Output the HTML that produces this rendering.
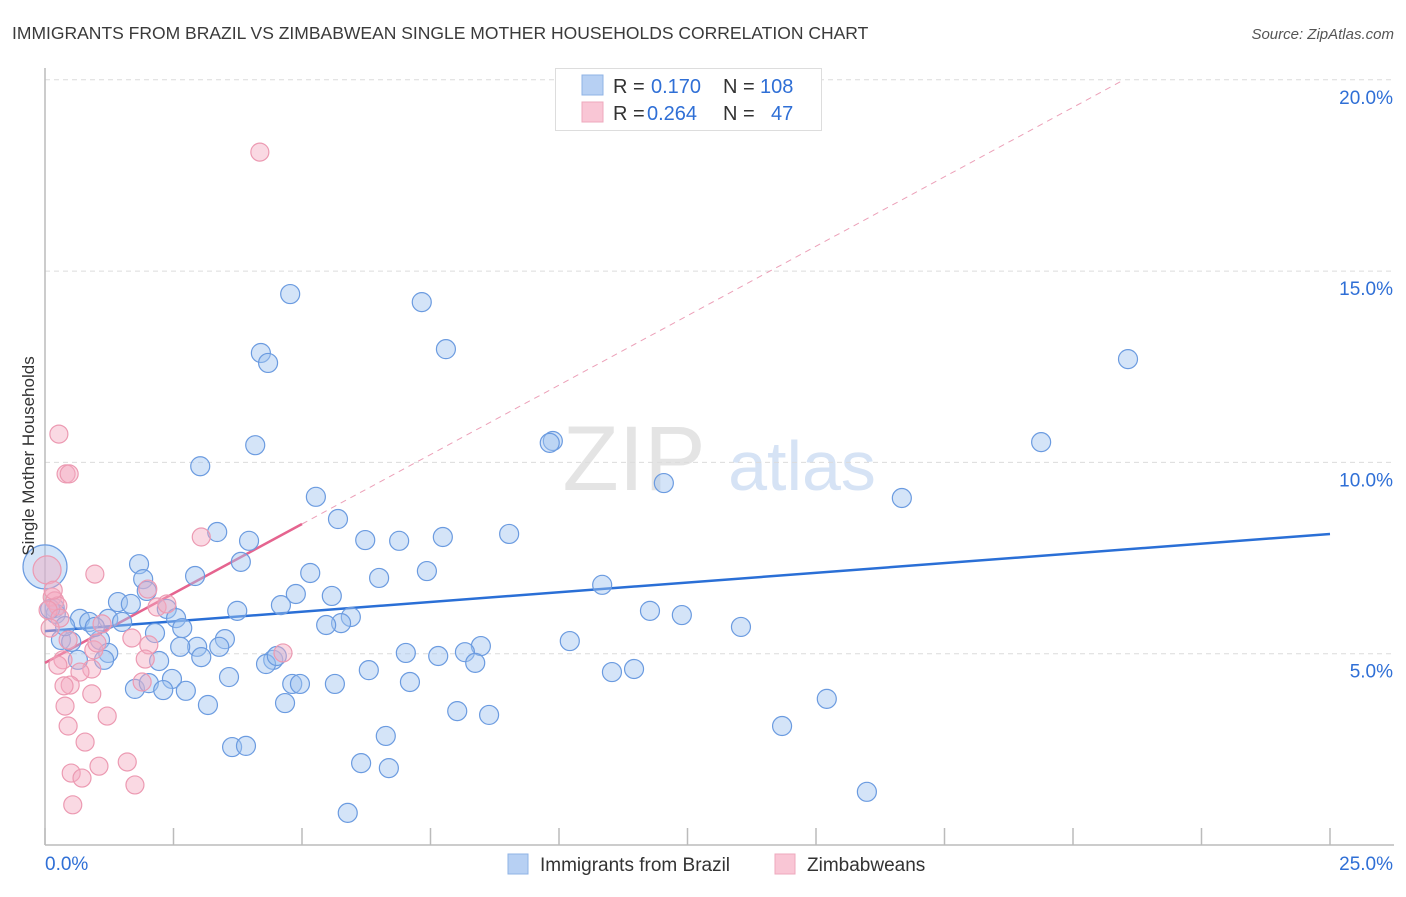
<!DOCTYPE html>
<html><head><meta charset="utf-8"><style>
body{margin:0;background:#fff;font-family:"Liberation Sans",sans-serif;}
svg text{font-family:"Liberation Sans",sans-serif;}
</style></head><body>
<svg id="chart" width="1406" height="892" xmlns="http://www.w3.org/2000/svg">
<text x="12" y="39" font-size="17.5" fill="#3a3a3a">IMMIGRANTS FROM BRAZIL VS ZIMBABWEAN SINGLE MOTHER HOUSEHOLDS CORRELATION CHART</text>
<text x="1394" y="39" font-size="15" fill="#555" text-anchor="end" font-style="italic">Source: ZipAtlas.com</text>
<g>
<text x="634" y="490" font-size="92" fill="#e4e4e4" font-family="Liberation Serif" text-anchor="middle">ZIP</text>
<text x="802" y="490" font-size="70" fill="#d6e3f5" text-anchor="middle">atlas</text>
</g>
<g id="grid"></g>
<g id="axes"></g>
<g id="trends"></g>
<g id="points"></g>
<text transform="translate(34,456) rotate(-90)" font-size="17" fill="#333" text-anchor="middle">Single Mother Households</text>
<g>
<rect x="555.5" y="68.5" width="266" height="62" fill="#fff" stroke="#ddd"/>
<rect x="582" y="75" width="21" height="20" fill="#b7d0f3" stroke="#8fb3e6"/>
<rect x="582" y="102" width="21" height="20" fill="#f9c6d5" stroke="#eea8bd"/>
<text x="613" y="93" font-size="20" fill="#333">R = </text><text x="651" y="93" font-size="20" fill="#2f6fd6">0.170</text>
<text x="723" y="93" font-size="20" fill="#333">N = </text><text x="760" y="93" font-size="20" fill="#2f6fd6">108</text>
<text x="613" y="120" font-size="20" fill="#333">R = </text><text x="647" y="120" font-size="20" fill="#2f6fd6">0.264</text>
<text x="723" y="120" font-size="20" fill="#333">N = </text><text x="771" y="120" font-size="20" fill="#2f6fd6">47</text>
</g>
<g>
<rect x="508" y="854" width="20" height="20" fill="#b7d0f3" stroke="#8fb3e6"/>
<text x="540" y="871" font-size="19" fill="#333">Immigrants from Brazil</text>
<rect x="775" y="854" width="20" height="20" fill="#f9c6d5" stroke="#eea8bd"/>
<text x="807" y="871" font-size="19" fill="#333">Zimbabweans</text>
</g>
</svg>
<script>
const xTicks=[0,2.5,5,7.5,10,12.5,15,17.5,20,22.5,25];
const yTicks=[5,10,15,20];
const yTickLabels=["5.0%","10.0%","15.0%","20.0%"];
const xEndLabels=["0.0%","25.0%"];
const brazilX=[4.77,7.33,7.80,4.20,4.34,21.07,9.88,9.82,19.38,4.09,3.02,12.04,16.67,5.27,5.70,3.35,9.03,7.74,6.23,6.89,3.97,1.83,3.81,7.43,5.16,2.92,6.50,1.91,10.84,1.98,4.88,5.58,1.42,1.67,2.37,4.59,3.74,11.77,12.39,5.95,0.68,1.23,5.76,5.47,0.86,1.50,2.55,2.67,13.54,2.14,10.21,3.50,8.48,1.07,0.31,0.51,2.96,2.63,3.39,8.17,7.02,7.65,3.04,1.23,8.37,2.22,1.15,0.64,4.44,4.30,4.51,6.30,11.03,11.46,3.58,2.47,7.10,4.81,4.96,5.64,1.75,2.02,2.74,2.30,4.67,3.17,8.02,8.64,15.21,6.63,14.34,3.64,3.91,6.15,6.69,15.99,5.89,0.19,0.21,0.97,0.39,0.10];
const brazilY=[14.40,14.19,12.96,12.86,12.60,12.70,10.56,10.51,10.53,10.45,9.90,9.46,9.07,9.10,8.52,8.18,8.13,8.05,7.97,7.95,7.95,7.34,7.40,7.16,7.11,7.03,6.98,6.95,6.80,6.64,6.56,6.51,6.35,6.30,6.17,6.27,6.12,6.12,6.01,5.96,5.91,5.91,5.80,5.75,5.83,5.83,5.93,5.67,5.70,5.54,5.33,5.38,5.20,5.36,5.36,5.31,5.18,5.18,5.18,5.04,5.02,4.94,4.91,5.02,4.76,4.81,4.84,4.84,4.84,4.73,4.94,4.57,4.52,4.60,4.39,4.34,4.26,4.21,4.21,4.21,4.08,4.23,4.03,4.05,3.71,3.66,3.50,3.40,3.82,2.85,3.11,2.56,2.59,2.14,2.01,1.39,0.84,6.19,6.04,5.70,5.72,6.17];
const zimX=[4.18,0.27,0.41,0.47,3.04,0.97,2.00,0.14,0.19,0.25,0.06,0.29,2.18,1.11,4.63,1.69,2.02,0.95,1.01,0.35,0.25,1.95,0.91,0.68,0.49,0.37,0.91,1.21,0.39,0.45,0.78,1.60,1.05,0.51,0.72,1.75,0.54,0.16,0.10,0.45,1.89,2.37];
const zimY=[18.11,10.74,9.70,9.70,8.05,7.08,6.69,6.48,6.38,6.25,6.14,5.93,6.22,5.78,5.02,5.41,5.23,5.10,5.28,4.84,4.70,4.86,4.60,4.52,4.18,4.16,3.95,3.37,3.63,3.11,2.69,2.17,2.06,1.88,1.75,1.57,1.05,6.66,5.67,5.36,4.26,6.30];
const bigBrazil=[0,7.27];
const bigZim=[0.04,7.19];
const brazilTrend=[5.59,0.1016];
const zimTrend=[4.76,0.726];
const NS="http://www.w3.org/2000/svg";
const X0=45,X1=1330,Y0=845,YPER=38.26;
function sx(v){return X0+(X1-X0)*v/25;}
function sy(v){return Y0-v*YPER;}
function mk(tag,attrs,parent){const e=document.createElementNS(NS,tag);for(const k in attrs)e.setAttribute(k,attrs[k]);parent.appendChild(e);return e;}
const grid=document.getElementById('grid'),axes=document.getElementById('axes');
yTicks.forEach((t,i)=>{
 const l=mk('line',{x1:X0,x2:1394,y1:sy(t),y2:sy(t),stroke:'#dcdcdc','stroke-dasharray':'5,4'},grid);
 
 
 const tx=mk('text',{x:1393,y:sy(t)+24,'font-size':19,fill:'#2f6fd6','text-anchor':'end'},axes);
 tx.textContent=yTickLabels[i];
 
 
});
const ya=mk('line',{x1:X0,x2:X0,y1:68,y2:Y0,stroke:'#bbb','stroke-width':1.5},axes);


const xa=mk('line',{x1:X0,x2:1394,y1:Y0,y2:Y0,stroke:'#bbb','stroke-width':1.5},axes);


xTicks.forEach(t=>{
 const l=mk('line',{x1:sx(t),x2:sx(t),y1:828,y2:Y0,stroke:'#bbb','stroke-width':1.5},axes);
 
 
});
const xl0=mk('text',{x:X0,y:870,'font-size':19,fill:'#2f6fd6'},axes);xl0.textContent=xEndLabels[0];


const xl1=mk('text',{x:1393,y:870,'font-size':19,fill:'#2f6fd6','text-anchor':'end'},axes);xl1.textContent=xEndLabels[1];


const pts=document.getElementById('points');
function dot(x,y,r,fill,stroke,name){const c=mk('circle',{cx:sx(x),cy:sy(y),r:r,fill:fill,stroke:stroke,'stroke-width':1.2},pts);
 
 }
dot(bigBrazil[0],bigBrazil[1],22,'rgba(160,196,240,0.45)','#6b9be0','point-brazil');
brazilX.forEach((x,i)=>dot(x,brazilY[i],9.5,'rgba(160,196,240,0.45)','#6b9be0','point-brazil'));
dot(bigZim[0],bigZim[1],14,'rgba(245,170,192,0.45)','#ec9ab2','point-zimbabwe');
zimX.forEach((x,i)=>dot(x,zimY[i],9,'rgba(245,170,192,0.45)','#ec9ab2','point-zimbabwe'));
const tr=document.getElementById('trends');
const bt=mk('line',{x1:sx(0),y1:sy(brazilTrend[0]),x2:sx(25),y2:sy(brazilTrend[0]+25*brazilTrend[1]),stroke:'#2a6fd6','stroke-width':2.5},tr);


const zxEnd=(20-zimTrend[0])/zimTrend[1];
const zd=mk('line',{x1:sx(5),y1:sy(zimTrend[0]+5*zimTrend[1]),x2:sx(zxEnd),y2:sy(20),stroke:'#eca0b8','stroke-width':1,'stroke-dasharray':'6,5'},tr);


const zt=mk('line',{x1:sx(0),y1:sy(zimTrend[0]),x2:sx(5),y2:sy(zimTrend[0]+5*zimTrend[1]),stroke:'#e5648f','stroke-width':2.5},tr);


</script>
</body></html>
